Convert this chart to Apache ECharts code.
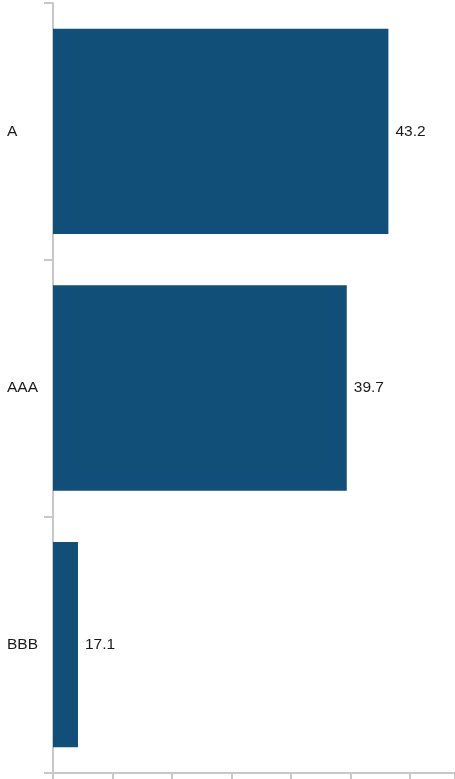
<!DOCTYPE html>
<html>
<head>
<meta charset="utf-8">
<script src="https://cdn.jsdelivr.net/npm/echarts@6/dist/echarts.min.js"></script>
<style>html,body{margin:0;padding:0;background:#fff;}#c{width:455px;height:779px;}</style>
</head>
<body>
<div id="c"></div>
<script>
var categories = ['A', 'AAA', 'BBB'];
var values = [43.2, 39.7, 17.1];
var chart = echarts.init(document.getElementById('c'), null, {renderer: 'canvas'});
chart.setOption({
  animation: false,
  grid: {left: 53, right: 0, top: 3, bottom: 6, containLabel: false},
  xAxis: {
    type: 'value', min: 15, max: 48.8, interval: 5,
    axisLine: {show: true, lineStyle: {color: '#c8c8c8', width: 2}},
    axisTick: {show: true, length: 9, lineStyle: {color: '#c8c8c8', width: 2}},
    axisLabel: {show: false},
    splitLine: {show: false}
  },
  yAxis: {
    type: 'category', data: categories, inverse: true,
    axisLine: {show: true, lineStyle: {color: '#c8c8c8', width: 2}},
    axisTick: {show: true, length: 9, lineStyle: {color: '#c8c8c8', width: 2}},
    axisLabel: {align: 'left', margin: 46, color: '#1a1a1a', fontSize: 15.5, fontFamily: 'Liberation Sans, Arial, sans-serif'}
  },
  series: [{
    type: 'bar', data: values, barCategoryGap: '20%',
    itemStyle: {color: '#114f79'},
    label: {show: true, position: 'right', distance: 7, color: '#1a1a1a', fontSize: 15.5, fontFamily: 'Liberation Sans, Arial, sans-serif'}
  }]
});
</script>
</body>
</html>
